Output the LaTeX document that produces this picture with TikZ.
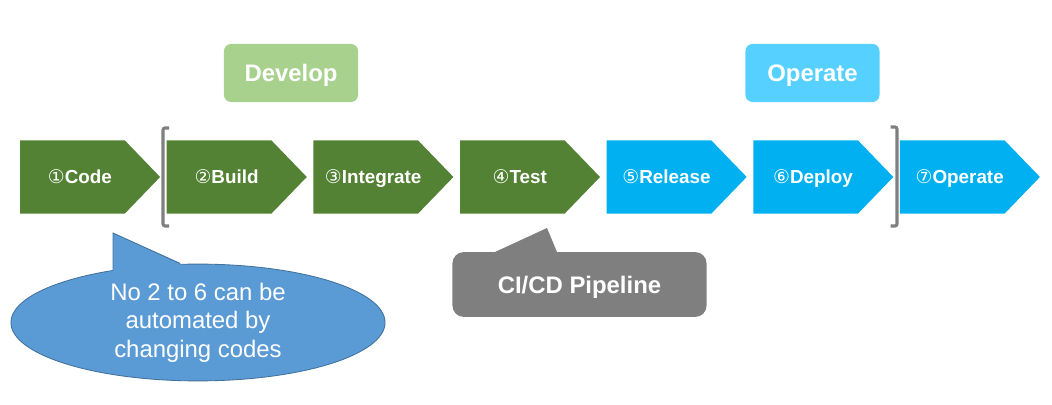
\documentclass[tikz,border=0pt]{standalone}
\usepackage{fontspec}
\setmainfont{Liberation Sans}
\newfontfamily\circfont{DejaVu Sans}
\usetikzlibrary{positioning, shapes.symbols, shapes.geometric}
\definecolor{dev-green}{HTML}{548235}
\definecolor{dev-light}{HTML}{A9D18E}
\definecolor{ops-blue}{HTML}{00B0F0}
\definecolor{ops-light}{HTML}{56D1FF}
\definecolor{note-blue}{HTML}{5B9BD5}
\definecolor{note-edge}{HTML}{41719C}
\definecolor{pipe-gray}{HTML}{7F7F7F}
% step text, pushed a little to the right of the body centre
\newcommand{\steptext}[2]{\makebox[0pt]{\hspace*{0.37cm}{\circfont\mdseries #1}#2}}

\begin{document}
\begin{tikzpicture}[
    x=0.025cm, y=-0.025cm,
    stepbox/.style={signal, signal to=east, signal pointer angle=92,
                    minimum width=3.5cm, minimum height=1.825cm, inner sep=0pt,
                    text height=9.6pt, text depth=0pt,
                    text=white, font=\fontsize{13.4}{15}\selectfont\bfseries},
    phase/.style={rounded corners=5pt, minimum width=3.35cm, minimum height=1.45cm,
                  text height=12.2pt, text depth=0pt,
                  text=white, font=\fontsize{17}{20}\selectfont\bfseries},
    brk/.style={line width=2.2pt, pipe-gray, rounded corners=1.5pt},
    node distance=0.148cm,
]
    \useasboundingbox (0,0) rectangle (1052,405);

    % Phase labels
    \node[phase, fill=dev-light] (develop) at (291,73) {Develop};
    \node[phase, fill=ops-light] (operate) at (812.5,73) {Operate};

    % Steps
    \node[stepbox, fill=dev-green] (code) at (72.5,177) {\steptext{①}{Code}};
    \node[stepbox, fill=dev-green, right=of code] (build) {\steptext{②}{Build}};
    \node[stepbox, fill=dev-green, right=of build] (integrate) {\steptext{③}{Integrate}};
    \node[stepbox, fill=dev-green, right=of integrate] (test) {\steptext{④}{Test}};
    \node[stepbox, fill=ops-blue, right=of test] (release) {\steptext{⑤}{Release}};
    \node[stepbox, fill=ops-blue, right=of release] (deploy) {\steptext{⑥}{Deploy}};
    \node[stepbox, fill=ops-blue, right=of deploy] (ops) {\steptext{⑦}{Operate}};

    % Brackets
    \draw[brk] (169,128) -- (163,128) -- (163,226) -- (169,226);
    \draw[brk] (890.5,127) -- (897,127) -- (897,226) -- (890.5,226);

    % CI/CD callout
    \node[rounded corners=8pt, fill=pipe-gray, minimum width=6.35cm, minimum height=1.62cm,
          text height=12.2pt, text depth=0pt,
          text=white, font=\fontsize{17}{20}\selectfont\bfseries] (cicd) at (579.5,284.5) {CI/CD Pipeline};
    \fill[pipe-gray] (495,256) -- (495,252) -- (547,228) -- (557,252) -- (557,256) -- cycle;

    % Note callout
    \node[ellipse, fill=note-blue, draw=note-edge, line width=0.6pt, minimum width=9.35cm,
          minimum height=2.92cm, inner sep=0pt, align=center, text=white,
          font=\fontsize{17}{20.2}\selectfont] (note) at (198,322.5)
          {No 2 to 6 can be\\automated by\\changing codes};
    \fill[note-blue] (113,233) -- (113,280) -- (182,272) -- (180,263) -- cycle;
    \draw[note-edge, line width=0.6pt] (113,270) -- (113,233) -- (180,263.5);

\end{tikzpicture}
\end{document}
